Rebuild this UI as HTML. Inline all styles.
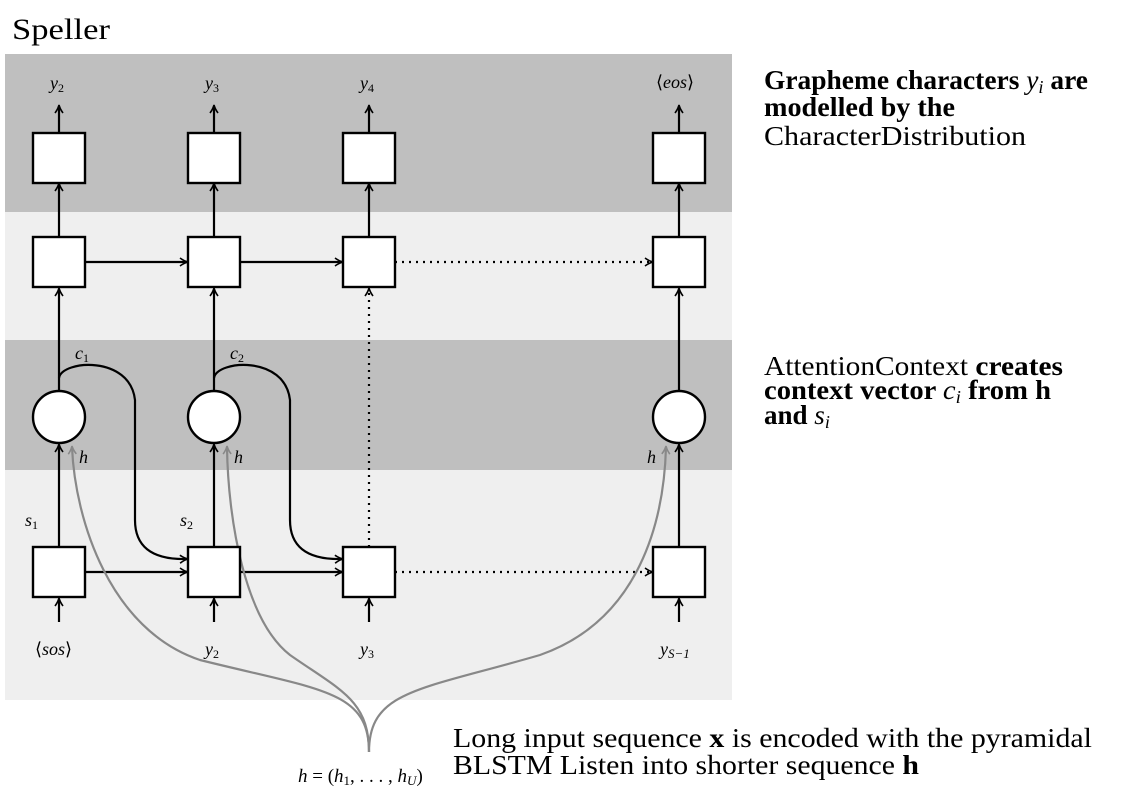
<!DOCTYPE html>
<html><head><meta charset="utf-8"><style>
html,body{margin:0;padding:0;background:#fff;}
svg{display:block;}
text{font-family:"Liberation Serif",serif;}
.it{font-style:italic;}
</style></head><body>
<svg width="1122" height="806" viewBox="0 0 1122 806" xmlns="http://www.w3.org/2000/svg">
<defs>
<marker id="a" markerWidth="10" markerHeight="10" refX="8" refY="5" orient="auto" markerUnits="userSpaceOnUse">
<path d="M1,1 Q5,4 9,5 Q5,6 1,9" fill="none" stroke="#000" stroke-width="1.6"/></marker>
<marker id="g" markerWidth="10" markerHeight="10" refX="8" refY="5" orient="auto" markerUnits="userSpaceOnUse">
<path d="M1,1 Q5,4 9,5 Q5,6 1,9" fill="none" stroke="#888" stroke-width="1.6"/></marker>
</defs>
<text x="12" y="39" font-size="30" textLength="98" lengthAdjust="spacingAndGlyphs">Speller</text>
<rect x="5" y="54" width="727" height="158" fill="#bfbfbf"/>
<rect x="5" y="212" width="727" height="128" fill="#efefef"/>
<rect x="5" y="340" width="727" height="130" fill="#bfbfbf"/>
<rect x="5" y="470" width="727" height="230" fill="#efefef"/>

<g stroke="#000" stroke-width="2.2" fill="none">
<line x1="59" y1="133" x2="59" y2="106" marker-end="url(#a)"/>
<line x1="214" y1="133" x2="214" y2="106" marker-end="url(#a)"/>
<line x1="369" y1="133" x2="369" y2="106" marker-end="url(#a)"/>
<line x1="679" y1="133" x2="679" y2="106" marker-end="url(#a)"/>
<line x1="59" y1="237" x2="59" y2="184" marker-end="url(#a)"/>
<line x1="214" y1="237" x2="214" y2="184" marker-end="url(#a)"/>
<line x1="369" y1="237" x2="369" y2="184" marker-end="url(#a)"/>
<line x1="679" y1="237" x2="679" y2="184" marker-end="url(#a)"/>
<line x1="85" y1="262" x2="187" y2="262" marker-end="url(#a)"/>
<line x1="240" y1="262" x2="342" y2="262" marker-end="url(#a)"/>
<line x1="395" y1="262" x2="652" y2="262" stroke-dasharray="2,5" marker-end="url(#a)"/>
<line x1="369" y1="547" x2="369" y2="289" stroke-dasharray="2,5" marker-end="url(#a)"/>
<line x1="59" y1="391" x2="59" y2="289" marker-end="url(#a)"/>
<line x1="214" y1="391" x2="214" y2="289" marker-end="url(#a)"/>
<line x1="679" y1="391" x2="679" y2="289" marker-end="url(#a)"/>
<line x1="59" y1="547" x2="59" y2="445" marker-end="url(#a)"/>
<line x1="214" y1="547" x2="214" y2="445" marker-end="url(#a)"/>
<line x1="679" y1="547" x2="679" y2="445" marker-end="url(#a)"/>
<line x1="85" y1="572" x2="187" y2="572" marker-end="url(#a)"/>
<line x1="240" y1="572" x2="342" y2="572" marker-end="url(#a)"/>
<line x1="395" y1="572" x2="652" y2="572" stroke-dasharray="2,5" marker-end="url(#a)"/>
<line x1="59" y1="622" x2="59" y2="599" marker-end="url(#a)"/>
<line x1="214" y1="622" x2="214" y2="599" marker-end="url(#a)"/>
<line x1="369" y1="622" x2="369" y2="599" marker-end="url(#a)"/>
<line x1="679" y1="622" x2="679" y2="599" marker-end="url(#a)"/>
<path d="M59,378 C62,360 130,355 135,400 L135,520 C135,545 150,560 187,559" marker-end="url(#a)"/>
<path d="M214,378 C217,360 285,355 290,400 L290,520 C290,545 305,560 342,559" marker-end="url(#a)"/>
</g>

<g stroke="#888" stroke-width="2.2" fill="none">
<path d="M369,752 C369,690 320,690 200,660 C110,630 75,520 72,447" marker-end="url(#g)"/>
<path d="M369,752 C369,700 340,690 290,655 C245,620 228,520 227,447" marker-end="url(#g)"/>
<path d="M369,752 C369,690 420,690 540,655 C640,620 664,520 666,447" marker-end="url(#g)"/>
</g>

<g stroke="#000" stroke-width="2.4" fill="#fff">
<rect x="33" y="133" width="52" height="50"/><rect x="188" y="133" width="52" height="50"/>
<rect x="343" y="133" width="52" height="50"/><rect x="653" y="133" width="52" height="50"/>
<rect x="33" y="237" width="52" height="50"/><rect x="188" y="237" width="52" height="50"/>
<rect x="343" y="237" width="52" height="50"/><rect x="653" y="237" width="52" height="50"/>
<rect x="33" y="547" width="52" height="50"/><rect x="188" y="547" width="52" height="50"/>
<rect x="343" y="547" width="52" height="50"/><rect x="653" y="547" width="52" height="50"/>
<circle cx="59" cy="417" r="26"/><circle cx="214" cy="417" r="26"/><circle cx="679" cy="417" r="26"/>
</g>

<g font-size="18">
<text x="50" y="89" class="it">y<tspan font-size="12" font-style="normal" dy="3">2</tspan></text>
<text x="205" y="89" class="it">y<tspan font-size="12" font-style="normal" dy="3">3</tspan></text>
<text x="360" y="89" class="it">y<tspan font-size="12" font-style="normal" dy="3">4</tspan></text>
<text x="656" y="88">⟨<tspan class="it">eos</tspan>⟩</text>
<text x="75" y="359" class="it">c<tspan font-size="12" font-style="normal" dy="3">1</tspan></text>
<text x="230" y="359" class="it">c<tspan font-size="12" font-style="normal" dy="3">2</tspan></text>
<text x="79" y="463" class="it">h</text>
<text x="234" y="463" class="it">h</text>
<text x="647" y="463" class="it">h</text>
<text x="25" y="526" class="it">s<tspan font-size="12" font-style="normal" dy="3">1</tspan></text>
<text x="180" y="526" class="it">s<tspan font-size="12" font-style="normal" dy="3">2</tspan></text>
<text x="35" y="655">⟨<tspan class="it">sos</tspan>⟩</text>
<text x="205" y="655" class="it">y<tspan font-size="12" font-style="normal" dy="3">2</tspan></text>
<text x="360" y="655" class="it">y<tspan font-size="12" font-style="normal" dy="3">3</tspan></text>
<text x="660" y="655" class="it">y<tspan font-size="13" dy="3">S−1</tspan></text>
</g>
<text x="298" y="782" font-size="19"><tspan class="it">h</tspan> = (<tspan class="it">h</tspan><tspan font-size="13" dy="3">1</tspan><tspan dy="-3">, . . . , </tspan><tspan class="it">h</tspan><tspan font-size="13" class="it" dy="3">U</tspan><tspan dy="-3">)</tspan></text>

<g font-size="27">
<text x="764" y="89" font-weight="bold" textLength="324" lengthAdjust="spacingAndGlyphs">Grapheme characters <tspan class="it" font-weight="normal">y<tspan font-size="18" dy="4">i</tspan></tspan><tspan dy="-4"> are</tspan></text>
<text x="764" y="116" font-weight="bold" textLength="191" lengthAdjust="spacingAndGlyphs">modelled by the</text>
<text x="764" y="145" textLength="262" lengthAdjust="spacingAndGlyphs">CharacterDistribution</text>
<text x="764" y="375" textLength="299" lengthAdjust="spacingAndGlyphs">AttentionContext <tspan font-weight="bold">creates</tspan></text>
<text x="764" y="399" font-weight="bold" textLength="287" lengthAdjust="spacingAndGlyphs">context vector <tspan class="it" font-weight="normal">c<tspan font-size="18" dy="4">i</tspan></tspan><tspan dy="-4"> from h</tspan></text>
<text x="764" y="424" font-weight="bold">and <tspan class="it" font-weight="normal">s<tspan font-size="18" dy="4">i</tspan></tspan></text>
<text x="453" y="747" textLength="639" lengthAdjust="spacingAndGlyphs">Long input sequence <tspan font-weight="bold">x</tspan> is encoded with the pyramidal</text>
<text x="453" y="774" textLength="466" lengthAdjust="spacingAndGlyphs">BLSTM Listen into shorter sequence <tspan font-weight="bold">h</tspan></text>
</g>
</svg>
</body></html>
